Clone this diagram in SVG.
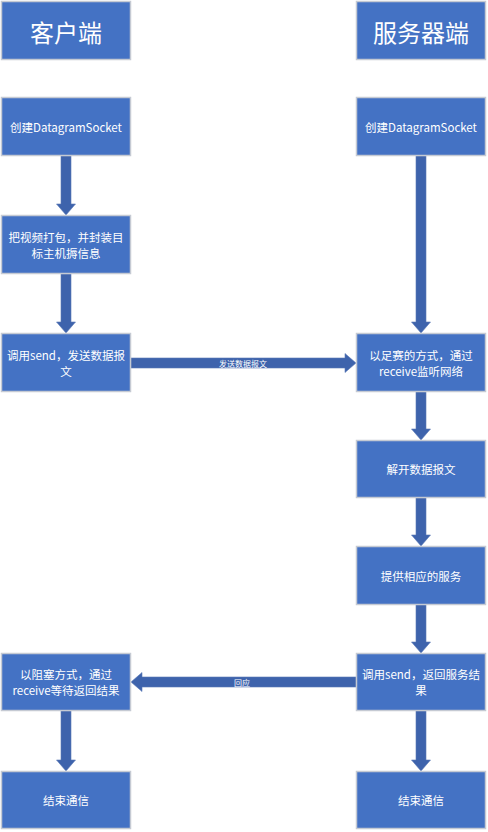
<svg xmlns="http://www.w3.org/2000/svg" width="488" height="832" viewBox="0 0 488 832">
<defs>
<style>
.box{fill:#4472C4;stroke:#C5CAD3;stroke-width:1.5}
.t{fill:#fff;font-family:"Noto Sans CJK SC","Noto Sans",sans-serif;font-size:11.5px;text-anchor:middle;dominant-baseline:central}
.h{font-size:24px}
.arr{fill:#3E63AC;stroke:#5A79B6;stroke-width:0.6}
.lab{fill:#fff;font-family:"Noto Sans CJK SC","Noto Sans",sans-serif;font-size:8px;text-anchor:middle;dominant-baseline:central}
</style>
</defs>
<rect width="488" height="832" fill="#fff"/>
<g id="connectors">
<path class="arr" d="M61,156 H71 V204 H75.5 L66,215 L56.5,204 H61 Z"/>
<path class="arr" d="M61,274 H71 V322 H75.5 L66,333 L56.5,322 H61 Z"/>
<path class="arr" d="M61,711 H71 V760 H75.5 L66,771 L56.5,760 H61 Z"/>
<path class="arr" d="M416,156 H426 V322 H430.5 L421,333 L411.5,322 H416 Z"/>
<path class="arr" d="M416,392 H426 V429 H430.5 L421,440 L411.5,429 H416 Z"/>
<path class="arr" d="M416,498 H426 V535 H430.5 L421,546 L411.5,535 H416 Z"/>
<path class="arr" d="M416,604 H426 V642 H430.5 L421,653 L411.5,642 H416 Z"/>
<path class="arr" d="M416,711 H426 V760 H430.5 L421,771 L411.5,760 H416 Z"/>
<path class="arr" d="M131,358 H345 V353.5 L356,363 L345,372.5 V368 H131 Z"/>
<text class="lab" x="243" y="363">发送数据报文</text>
<path class="arr" d="M356,677 H142 V672.5 L131,682 L142,691.5 V687 H356 Z"/>
<text class="lab" x="242" y="682">回应</text>
</g>
<g id="client-header"><rect class="box" x="1.5" y="1.5" width="129" height="58"/><text class="t h" x="66" y="31">客户端</text></g>
<g id="server-header"><rect class="box" x="356.5" y="1.5" width="129" height="58"/><text class="t h" x="421" y="31">服务器端</text></g>
<g id="c1"><rect class="box" x="1.5" y="97.5" width="129" height="58"/><text class="t" x="66" y="127">创建DatagramSocket</text></g>
<g id="s1"><rect class="box" x="356.5" y="97.5" width="129" height="58"/><text class="t" x="421" y="127">创建DatagramSocket</text></g>
<g id="c2"><rect class="box" x="1.5" y="215.5" width="129" height="58"/><text class="t" x="66" y="237">把视频打包，并封装目</text><text class="t" x="66" y="252.5">标主机搙信息</text></g>
<g id="c3"><rect class="box" x="1.5" y="333.5" width="129" height="58"/><text class="t" x="66" y="355">调用send，发送数据报</text><text class="t" x="66" y="370.5">文</text></g>
<g id="s2"><rect class="box" x="356.5" y="333.5" width="129" height="58"/><text class="t" x="421" y="355">以足赛的方式，通过</text><text class="t" x="421" y="370.5">receive监听网络</text></g>
<g id="s3"><rect class="box" x="356.5" y="440.5" width="129" height="57"/><text class="t" x="421" y="469">解开数据报文</text></g>
<g id="s4"><rect class="box" x="356.5" y="546.5" width="129" height="58"/><text class="t" x="421" y="576">提供相应的服务</text></g>
<g id="s5"><rect class="box" x="356.5" y="653.5" width="129" height="57"/><text class="t" x="421" y="674">调用send，返回服务结</text><text class="t" x="421" y="689.5">果</text></g>
<g id="c4"><rect class="box" x="1.5" y="653.5" width="129" height="57"/><text class="t" x="66" y="674">以阻塞方式，通过</text><text class="t" x="66" y="689.5">receive等待返回结果</text></g>
<g id="c5"><rect class="box" x="1.5" y="771.5" width="129" height="57"/><text class="t" x="66" y="800">结束通信</text></g>
<g id="s6"><rect class="box" x="356.5" y="771.5" width="129" height="57"/><text class="t" x="421" y="800">结束通信</text></g>
</svg>
